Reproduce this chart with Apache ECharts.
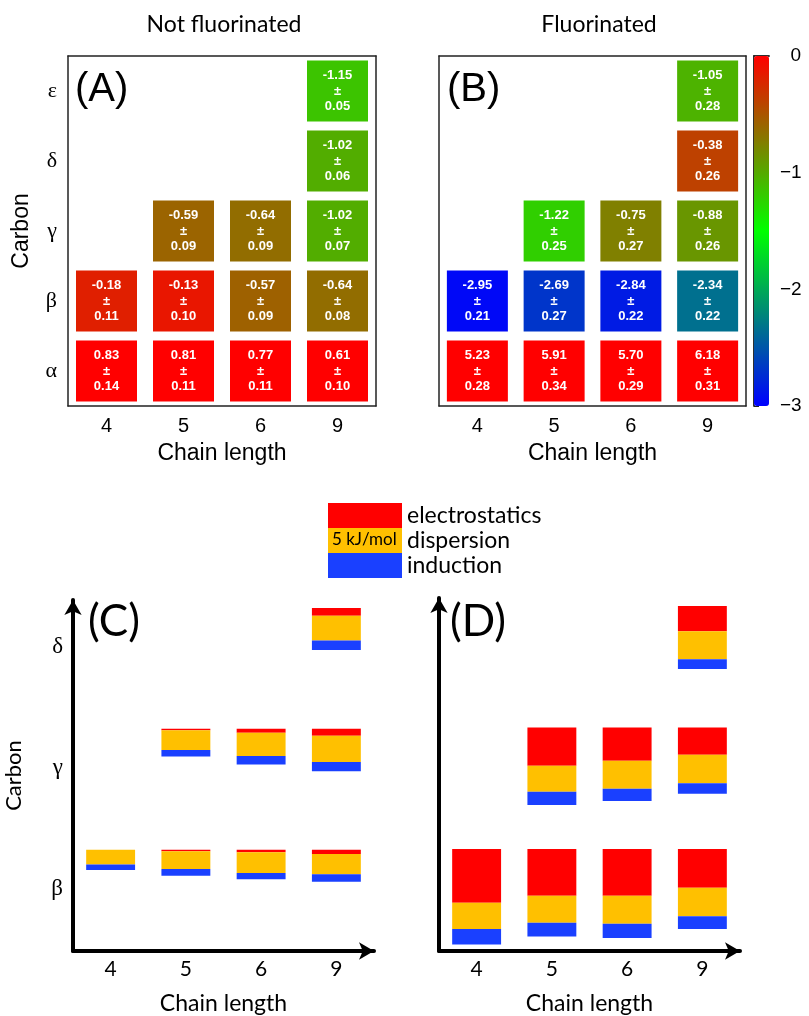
<!DOCTYPE html>
<html><head><meta charset="utf-8">
<script src="https://cdn.jsdelivr.net/npm/echarts@6/dist/echarts.min.js"></script>
<style>html,body{margin:0;padding:0;background:#fff}#c{width:809px;height:1016px}</style>
</head><body><div id="c"></div>
<script>
// ---------- data: panels A / B (heat maps) ----------
const chainLengths = ['4', '5', '6', '9'];
const carbons = ['α', 'β', 'γ', 'δ', 'ε'];
const cellChain  = ['4','5','6','9', '4','5','6','9', '5','6','9', '9', '9'];
const cellCarbon = ['α','α','α','α', 'β','β','β','β', 'γ','γ','γ', 'δ', 'ε'];
const valA = [0.83, 0.81, 0.77, 0.61, -0.18, -0.13, -0.57, -0.64, -0.59, -0.64, -1.02, -1.02, -1.15];
const errA = [0.14, 0.11, 0.11, 0.10, 0.11, 0.10, 0.09, 0.08, 0.09, 0.09, 0.07, 0.06, 0.05];
const valB = [5.23, 5.91, 5.70, 6.18, -2.95, -2.69, -2.84, -2.34, -1.22, -0.75, -0.88, -0.38, -1.05];
const errB = [0.28, 0.34, 0.29, 0.31, 0.21, 0.27, 0.22, 0.22, 0.25, 0.27, 0.26, 0.26, 0.28];
const colorbarTicks = [0, -1, -2, -3];

// ---------- data: panels C / D (energy decomposition, kJ/mol magnitudes) ----------
const carbonsCD = ['β', 'γ', 'δ'];
const cdChain = ['4','5','6','9', '5','6','9', '9'];
const cdRow   = ['β','β','β','β', 'γ','γ','γ', 'δ'];
const elecC = [0.0, 0.3, 0.5, 0.9, 0.3, 0.8, 1.4, 1.6];
const dispC = [3.0, 3.6, 4.2, 4.1, 4.0, 4.7, 5.3, 5.0];
const indC  = [1.1, 1.4, 1.3, 1.5, 1.3, 1.7, 1.9, 1.9];
const elecD = [10.8, 9.4, 9.4, 7.8, 7.7, 6.7, 5.5, 5.1];
const dispD = [5.3, 5.4, 5.6, 5.7, 5.2, 5.6, 5.7, 5.6];
const indD  = [3.1, 2.8, 2.9, 2.6, 2.7, 2.5, 2.1, 2.0];
const componentNames = ['electrostatics', 'dispersion', 'induction'];

// ---------- layout constants ----------
const ROW_TOP0 = 20.5, ROW_STEP = 24.45, LABEL_DROP = 7.9;
const compColors = ['#ff0000', '#ffc000', '#1a40ff'];
const HELV = 'Liberation Sans';
const CAL = 'Lato';
const FRAME = '#222';

function cells(vals, errs) {
  return cellChain.map((c, i) => [c, cellCarbon[i], vals[i], errs[i]]);
}
function cdData(el, di, ind) {
  return cdChain.map((c, i) => [chainLengths.indexOf(c), carbonsCD.indexOf(cdRow[i]), el[i], di[i], ind[i]]);
}
function makeRender(k) {
  return function (params, api) {
    const cat = api.value(0), row = api.value(1);
    const comps = [api.value(2), api.value(3), api.value(4)];
    let off = 0;
    for (let j = 0; j < k; j++) off += comps[j];
    const top = ROW_TOP0 + row * ROW_STEP - off;
    const bottom = top - comps[k];
    const p1 = api.coord([cat, top]);
    const p2 = api.coord([cat, bottom]);
    const w = api.size([1, 0])[0] * 0.65;
    return { type: 'rect', shape: { x: p1[0] - w / 2, y: p1[1], width: w, height: p2[1] - p1[1] },
             style: { fill: api.visual('color') } };
  };
}

function heatX(gridIndex) {
  const common = { type: 'category', data: chainLengths, gridIndex,
    axisLine: { lineStyle: { color: FRAME, width: 1.5 } },
    axisTick: { inside: true, length: 5, alignWithLabel: true, lineStyle: { color: FRAME } },
    splitLine: { show: false } };
  return [
    Object.assign({}, common, { position: 'bottom',
      axisLabel: { margin: 10, fontSize: 20, color: '#000', fontFamily: HELV },
      name: 'Chain length', nameLocation: 'middle', nameGap: 36,
      nameTextStyle: { fontSize: 23, color: '#000', fontFamily: HELV } }),
    Object.assign({}, common, { position: 'top', axisLabel: { show: false } })
  ];
}
function heatY(gridIndex, withLabels) {
  const common = { type: 'category', data: carbons, gridIndex,
    axisLine: { lineStyle: { color: FRAME, width: 1.5 } },
    axisTick: { inside: true, length: 5, alignWithLabel: true, lineStyle: { color: FRAME } },
    splitLine: { show: false } };
  const left = Object.assign({}, common, { position: 'left',
    axisLabel: { show: withLabels, margin: 11, fontSize: 22, color: '#000', fontFamily: 'Liberation Serif' } });
  if (withLabels) {
    left.name = 'Carbon'; left.nameLocation = 'middle'; left.nameGap = 35;
    left.nameTextStyle = { fontSize: 23, color: '#000', fontFamily: HELV };
  }
  return [left, Object.assign({}, common, { position: 'right', axisLabel: { show: false } })];
}
function cdX(gridIndex) {
  return { type: 'category', data: chainLengths, gridIndex,
    axisLine: { symbol: ['none', 'arrow'], symbolSize: [13, 15], lineStyle: { color: '#000', width: 4 } },
    axisTick: { show: false },
    axisLabel: { margin: 8, fontSize: 21, color: '#000', fontFamily: CAL },
    name: 'Chain length', nameLocation: 'middle', nameGap: 41,
    nameTextStyle: { fontSize: 23, color: '#000', fontFamily: CAL } };
}
function cdY(gridIndex, withLabels) {
  const a = { type: 'value', gridIndex, min: 0, max: 71,
    axisLine: { show: true, symbol: ['none', 'arrow'], symbolSize: [13, 15], lineStyle: { color: '#000', width: 4 } },
    axisTick: { show: false }, splitLine: { show: false },
    axisLabel: { show: withLabels, margin: 10, fontSize: 23, color: '#000', fontFamily: 'Liberation Serif',
      customValues: carbonsCD.map((_, r) => ROW_TOP0 + r * ROW_STEP - LABEL_DROP),
      formatter: v => carbonsCD[Math.round((v - (ROW_TOP0 - LABEL_DROP)) / ROW_STEP)] } };
  if (withLabels) {
    a.name = 'Carbon'; a.nameLocation = 'middle'; a.nameGap = 48;
    a.nameTextStyle = { fontSize: 22, color: '#000', fontFamily: CAL };
  }
  return a;
}
function cellSeries(name, xi, yi, vals, errs) {
  return { type: 'scatter', name, coordinateSystem: 'cartesian2d', xAxisIndex: xi, yAxisIndex: yi,
    data: cells(vals, errs),
    symbol: 'rect', symbolSize: 61, itemStyle: { opacity: 1 },
    label: { show: true, position: 'inside', color: '#fff', fontSize: 13, fontWeight: 'bold',
      fontFamily: HELV, lineHeight: 15.5,
      formatter: p => p.data[2].toFixed(2) + '\n±\n' + p.data[3].toFixed(2) },
    emphasis: { disabled: true } };
}
function cdSeries(xi, yi, el, di, ind) {
  return componentNames.map((n, k) => ({ type: 'custom', name: n, coordinateSystem: 'cartesian2d',
    xAxisIndex: xi, yAxisIndex: yi,
    data: cdData(el, di, ind), encode: { x: 0, y: 1 }, itemStyle: { color: compColors[k] },
    renderItem: makeRender(k), silent: true }));
}

const chart = echarts.init(document.getElementById('c'), null, { renderer: 'canvas' });
// x axes: 0,1 (A), 2,3 (B), 4,5 (colorbar), 6 (C), 7 (D)
const cbEdge = { type: 'value', gridIndex: 2, show: true, min: 0, max: 1,
  axisLine: { lineStyle: { color: FRAME, width: 1.5 } }, axisTick: { show: false },
  axisLabel: { show: false }, splitLine: { show: false } };
const xAxes = [].concat(
  heatX(0), heatX(1),
  [Object.assign({}, cbEdge, { position: 'bottom' }), Object.assign({}, cbEdge, { position: 'top' })],
  [cdX(3), cdX(4)]
);
// y axes: 0,1 (A), 2,3 (B), 4,5 (colorbar), 6 (C), 7 (D)
const yAxes = [].concat(
  heatY(0, true), heatY(1, false),
  [{ type: 'value', gridIndex: 2, position: 'right', min: -3, max: 0, interval: 1,
     axisLine: { show: true, lineStyle: { color: FRAME, width: 1.5 } },
     axisTick: { show: true, inside: false, length: 5, lineStyle: { color: FRAME } },
     axisLabel: { margin: 11, fontSize: 19, color: '#000', fontFamily: HELV, align: 'left',
       formatter: v => (v === 0 ? '\u20070' : '\u2212' + Math.abs(v)) },
     splitLine: { show: false } },
   { type: 'value', gridIndex: 2, position: 'left', min: -3, max: 0, interval: 1,
     axisLine: { show: true, lineStyle: { color: FRAME, width: 1.5 } },
     axisTick: { show: false }, axisLabel: { show: false }, splitLine: { show: false } }],
  [cdY(3, true), cdY(4, false)]
);

chart.setOption({
  animation: false,
  backgroundColor: '#fff',
  grid: [
    { left: 68, top: 56, width: 308, height: 350 },
    { left: 439, top: 56, width: 307, height: 350 },
    { left: 754, top: 56, width: 15, height: 350 },
    { left: 73, top: 600, width: 301, height: 355 },
    { left: 439, top: 598, width: 301, height: 355 }
  ],
  xAxis: xAxes,
  yAxis: yAxes,
  visualMap: {
    type: 'continuous', seriesIndex: [0, 1], dimension: 2, min: -3, max: 0,
    calculable: false, orient: 'vertical', left: 754, top: 56, itemWidth: 15, itemHeight: 350,
    padding: 0, hoverLink: false,
    inRange: { color: ['#0000ff', '#00ff00', '#ff0000'] }
  },
  legend: {
    data: componentNames, orient: 'vertical', left: 328, top: 503, padding: 0,
    itemWidth: 74, itemHeight: 25, itemGap: 0, icon: 'rect', selectedMode: false,
    textStyle: { fontSize: 23, fontFamily: CAL, color: '#000', lineHeight: 25 }
  },
  graphic: [
    { type: 'text', x: 224, y: 25, style: { text: 'Not fluorinated', font: '23px Lato', fill: '#000', textAlign: 'center', textVerticalAlign: 'middle' } },
    { type: 'text', x: 599, y: 25, style: { text: 'Fluorinated', font: '23px Lato', fill: '#000', textAlign: 'center', textVerticalAlign: 'middle' } },
    { type: 'text', x: 75, y: 90, style: { text: '(A)', font: '40px "Liberation Sans"', fill: '#000', textAlign: 'left', textVerticalAlign: 'middle' } },
    { type: 'text', x: 447, y: 90, style: { text: '(B)', font: '40px "Liberation Sans"', fill: '#000', textAlign: 'left', textVerticalAlign: 'middle' } },
    { type: 'text', x: 88, y: 622, style: { text: '(C)', font: '44px Lato', fill: '#000', textAlign: 'left', textVerticalAlign: 'middle' } },
    { type: 'text', x: 450, y: 622, style: { text: '(D)', font: '44px Lato', fill: '#000', textAlign: 'left', textVerticalAlign: 'middle' } },
    { type: 'text', x: 332, y: 540, z: 100, style: { text: '5 kJ/mol', font: '17px Lato', fill: '#000', textAlign: 'left', textVerticalAlign: 'middle' } }
  ],
  series: [
    cellSeries('Not fluorinated', 0, 0, valA, errA),
    cellSeries('Fluorinated', 2, 2, valB, errB)
  ].concat(cdSeries(6, 6, elecC, dispC, indC), cdSeries(7, 7, elecD, dispD, indD))
});
</script>
</body></html>
